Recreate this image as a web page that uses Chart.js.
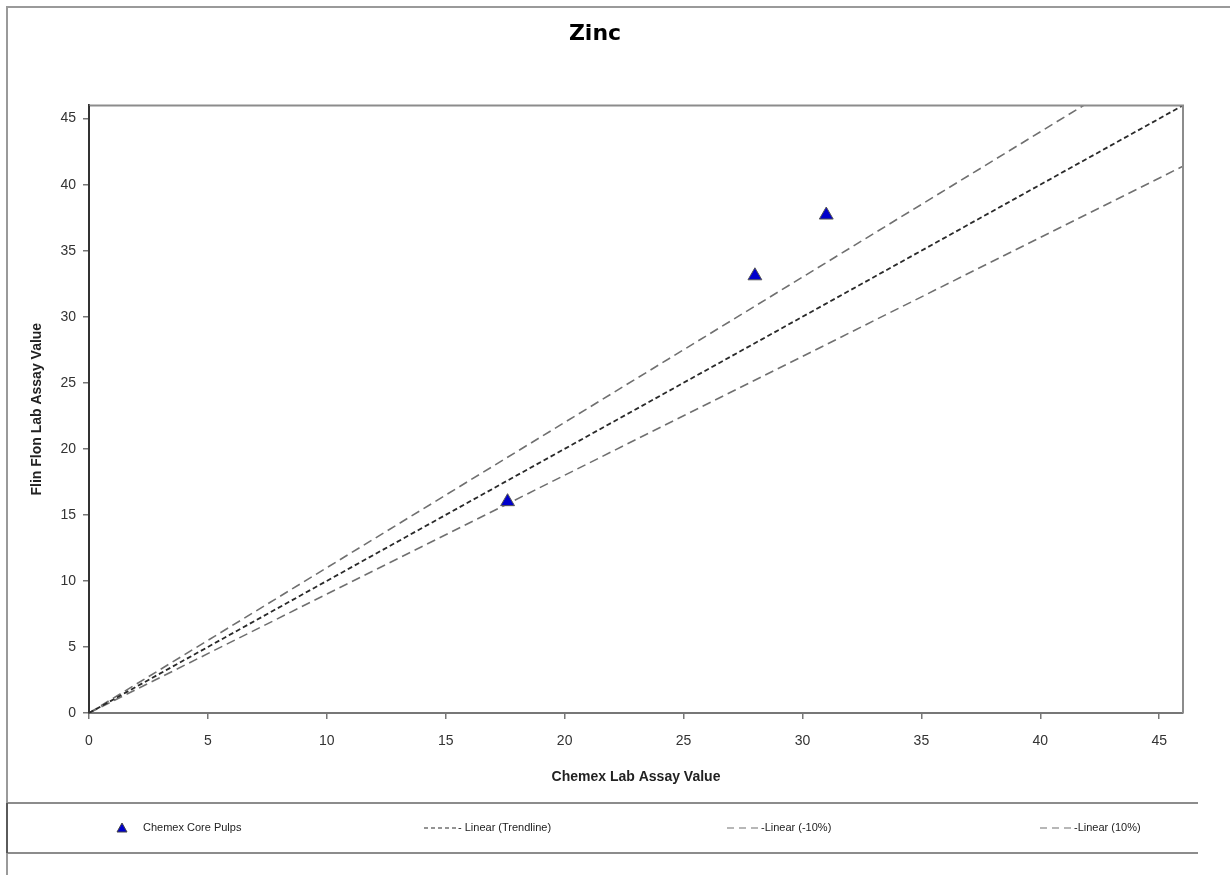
<!DOCTYPE html>
<html>
<head>
<meta charset="utf-8">
<script src="https://cdn.jsdelivr.net/npm/chart.js@4/dist/chart.umd.min.js"></script>
<style>
  html, body { margin: 0; padding: 0; background: #fff; }
  #wrap { width: 1230px; height: 875px; position: relative; }
</style>
</head>
<body>
<div id="wrap"><canvas id="zincChart"></canvas></div>
<script>
// data
var chemexX = [17.6, 28.0, 31.0];
var flinFlonY = [16.0, 33.1, 37.7];

var lineX = [0, 46];
var trendY = [0, 46];
var minus10Y = [0, 41.4];
var plus10Y = [0, 50.6];

var tickValues = [0, 5, 10, 15, 20, 25, 30, 35, 40, 45];

var tickFont = { family: 'Liberation Sans, Arial, sans-serif', size: 14 };
var titleFont = { family: 'Liberation Sans, Arial, sans-serif', size: 14, weight: 'bold' };

var toPoints = function(xs, ys) {
  var pts = new Array();
  for (var i = 0; i < xs.length; i++) {
    pts.push({ x: xs[i], y: ys[i] });
  }
  return pts;
};

// frame round the plot, page border and the boxed legend underneath
var framePlugin = {
  id: 'frame',
  beforeDraw: function(chart) {
    var c = chart.ctx;
    c.save();
    c.strokeStyle = '#9a9a9a';
    c.lineWidth = 2;
    c.beginPath();
    c.moveTo(7, 875); c.lineTo(7, 7); c.lineTo(1230, 7);
    c.stroke();
    c.restore();
  },
  afterDraw: function(chart) {
    var c = chart.ctx;
    var a = chart.chartArea;
    c.save();
    c.strokeStyle = '#8c8c8c';
    c.lineWidth = 2;
    c.beginPath();
    c.moveTo(a.left, a.top); c.lineTo(a.right, a.top); c.lineTo(a.right, a.bottom);
    c.stroke();
    c.strokeStyle = '#333';
    c.beginPath();
    c.moveTo(a.left, a.top); c.lineTo(a.left, a.bottom);
    c.stroke();

    // legend box
    c.strokeStyle = '#8c8c8c';
    c.beginPath();
    c.moveTo(7, 803); c.lineTo(1198, 803);
    c.moveTo(7, 853); c.lineTo(1198, 853);
    c.stroke();
    c.strokeStyle = '#444';
    c.lineWidth = 1.5;
    c.beginPath();
    c.moveTo(7, 803); c.lineTo(7, 853);
    c.stroke();

    var cols = [116, 424, 727, 1040];
    var ly = 828;
    c.font = '11px Liberation Sans, Arial, sans-serif';
    c.textBaseline = 'middle';
    c.fillStyle = '#222';
    chart.data.datasets.forEach(function(ds, i) {
      var x0 = cols[i];
      if (ds.showLine === false) {
        c.fillStyle = ds.backgroundColor;
        c.strokeStyle = '#444';
        c.lineWidth = 1;
        c.beginPath();
        c.moveTo(x0 + 6, ly - 5); c.lineTo(x0 + 11, ly + 4); c.lineTo(x0 + 1, ly + 4);
        c.closePath();
        c.fill(); c.stroke();
        c.fillStyle = '#222';
        c.fillText(ds.label, x0 + 27, ly);
      } else {
        c.strokeStyle = ds.borderColor;
        c.lineWidth = 1.2;
        c.setLineDash(ds.legendDash);
        c.beginPath();
        c.moveTo(x0, ly); c.lineTo(x0 + 34, ly);
        c.stroke();
        c.setLineDash([]);
        c.fillStyle = '#222';
        c.fillText(ds.label, x0 + 34, ly);
      }
    });
    c.restore();
  }
};

var fixedTicks = function(scale) {
  scale.ticks = tickValues.map(function(v) { return { value: v }; });
};

var ctx = document.getElementById('zincChart').getContext('2d');
var chart = new Chart(ctx, {
    type: 'scatter',
    data: {
        datasets: [{
            label: 'Chemex Core Pulps',
            data: toPoints(chemexX, flinFlonY),
            showLine: false,
            pointStyle: 'triangle',
            pointRadius: 8,
            backgroundColor: '#0000cc',
            borderColor: '#555',
            borderWidth: 1
        }, {
            label: '- Linear (Trendline)',
            data: toPoints(lineX, trendY),
            showLine: true,
            pointRadius: 0,
            borderColor: '#2a2a2a',
            borderWidth: 1.8,
            borderDash: [5, 3],
            legendDash: [4, 3]
        }, {
            label: '-Linear (-10%)',
            data: toPoints(lineX, minus10Y),
            showLine: true,
            pointRadius: 0,
            borderColor: '#707070',
            borderWidth: 1.6,
            borderDash: [9, 5],
            legendDash: [7, 5]
        }, {
            label: '-Linear (10%)',
            data: toPoints(lineX, plus10Y),
            showLine: true,
            pointRadius: 0,
            borderColor: '#707070',
            borderWidth: 1.6,
            borderDash: [9, 5],
            legendDash: [7, 5]
        }]
    },
    options: {
        responsive: true,
        maintainAspectRatio: false,
        animation: false,
        layout: { padding: { left: 7, right: 47, top: 0, bottom: 72 } },
        plugins: {
            legend: { display: false },
            tooltip: { enabled: false },
            title: {
                display: true,
                text: 'Zinc',
                color: '#000',
                font: { family: 'DejaVu Sans, sans-serif', size: 22, weight: 'bold' },
                padding: { top: 21, bottom: 58 }
            }
        },
        scales: {
            x: {
                type: 'linear',
                min: 0,
                max: 46,
                afterBuildTicks: fixedTicks,
                afterFit: function(scale) { scale.height = 90; },
                ticks: { color: '#333', font: tickFont, padding: 14, maxRotation: 0 },
                grid: { display: true, drawOnChartArea: false, tickLength: 6, color: '#777', lineWidth: 1.5 },
                border: { color: '#777', width: 2 },
                title: { display: true, text: 'Chemex Lab Assay Value', color: '#222', font: titleFont, padding: { top: 4, bottom: 17 } }
            },
            y: {
                type: 'linear',
                min: 0,
                max: 46,
                afterBuildTicks: fixedTicks,
                afterFit: function(scale) { scale.width = 82; },
                ticks: { color: '#333', font: tickFont, padding: 7 },
                grid: { display: true, drawOnChartArea: false, tickLength: 6, color: '#777', lineWidth: 1.5 },
                border: { color: '#333', width: 2 },
                title: { display: true, text: 'Flin Flon Lab Assay Value', color: '#222', font: titleFont, padding: { top: 22, bottom: 4 } }
            }
        }
    },
    plugins: [framePlugin]
});
</script>
</body>
</html>
